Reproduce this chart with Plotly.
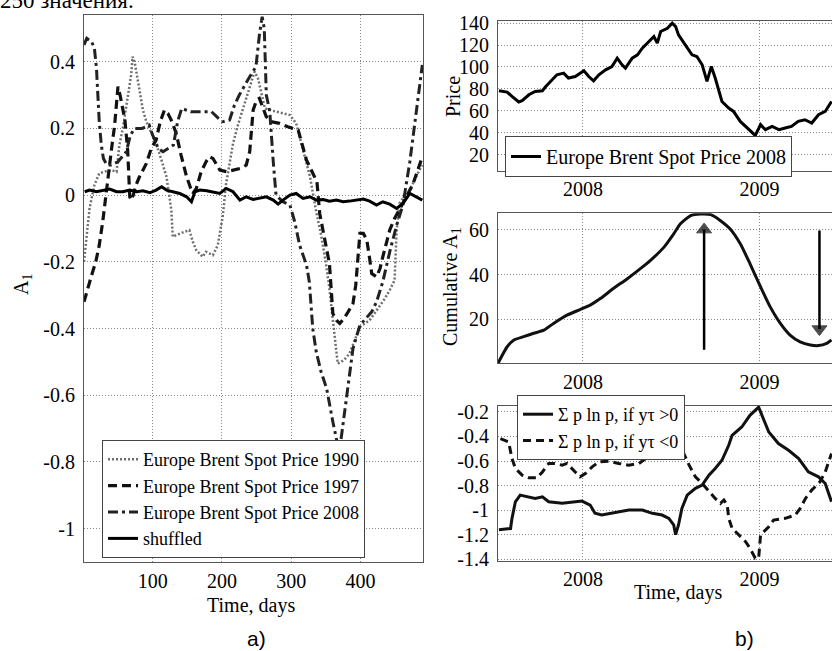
import plotly.graph_objects as go

# ---------------- Panel a) : A1 versus time ----------------
days_1990 = [1, 4, 9, 16, 23, 30, 40, 48, 52, 57, 62, 66, 69, 71, 74, 78, 82, 86, 91, 98, 105, 112, 120,
             127, 129, 134, 139, 146, 153, 158, 163, 172, 177, 187, 194, 201, 206, 211, 216, 223, 230, 240,
             247, 252, 258, 262, 269, 280, 290, 298, 307, 317, 327, 336, 343, 350, 355, 360, 364, 367, 372,
             378, 384, 392, 399, 406, 413, 420, 427, 435, 442, 449, 452, 456, 461, 466, 471, 475, 480, 485, 489]
a1_1990 = [-0.20, -0.14, -0.04, 0.03, 0.065, 0.07, 0.075, 0.07, 0.15, 0.20, 0.26, 0.32, 0.36, 0.415, 0.40,
           0.35, 0.30, 0.255, 0.22, 0.19, 0.155, 0.11, 0.055, -0.045, -0.125, -0.12, -0.115, -0.11, -0.105,
           -0.14, -0.165, -0.185, -0.17, -0.18, -0.15, -0.065, 0.035, 0.10, 0.155, 0.21, 0.255, 0.32, 0.37,
           0.35, 0.30, 0.26, 0.255, 0.25, 0.245, 0.24, 0.215, 0.135, 0.055, -0.05, -0.12, -0.205, -0.28,
           -0.375, -0.46, -0.505, -0.50, -0.49, -0.475, -0.43, -0.395, -0.385, -0.375, -0.355, -0.335, -0.31,
           -0.285, -0.255, -0.105, -0.025, -0.01, -0.005, 0.015, 0.035, 0.055, 0.075, 0.09]

days_1997 = [1, 6, 12, 18, 23, 28, 31, 35, 38, 42, 45, 48, 50, 53, 55, 60, 64, 67, 69, 72, 76, 81, 91, 98,
             105, 111, 117, 122, 128, 134, 141, 149, 155, 158, 163, 170, 177, 182, 187, 197, 207, 216, 226,
             235, 240, 245, 250, 254, 258, 264, 272, 283, 295, 303, 310, 316, 322, 330, 337, 341, 348, 355,
             360, 365, 370, 376, 382, 389, 393, 396, 399, 404, 409, 413, 416, 423, 428, 432, 437, 442, 449,
             456, 461, 466, 471, 475, 480, 485, 489]
a1_1997 = [-0.32, -0.28, -0.24, -0.20, -0.15, -0.08, -0.025, 0.04, 0.085, 0.16, 0.205, 0.28, 0.325, 0.30,
           0.275, 0.225, 0.135, -0.005, -0.015, 0.0, 0.03, 0.055, 0.095, 0.14, 0.165, 0.22, 0.255, 0.245,
           0.22, 0.185, 0.12, 0.055, 0.02, 0.005, 0.02, 0.07, 0.10, 0.115, 0.11, 0.075, 0.07, 0.075, 0.08,
           0.09, 0.13, 0.255, 0.285, 0.29, 0.27, 0.235, 0.22, 0.215, 0.205, 0.20, 0.195, 0.15, 0.105, 0.07,
           0.04, -0.055, -0.13, -0.205, -0.355, -0.375, -0.385, -0.37, -0.35, -0.325, -0.27, -0.205, -0.115,
           -0.115, -0.135, -0.19, -0.235, -0.245, -0.22, -0.185, -0.145, -0.105, -0.07, -0.045, -0.025,
           -0.005, 0.015, 0.03, 0.06, 0.09, 0.115]

days_2008 = [1, 5, 12, 16, 19, 21, 23, 26, 29, 34, 40, 50, 62, 68, 74, 85, 95, 100, 108, 115, 122, 130, 136,
             142, 155, 170, 185, 195, 201, 211, 218, 225, 233, 240, 249, 254, 258, 261, 264, 269, 274, 278,
             288, 298, 305, 312, 322, 326, 331, 336, 343, 351, 360, 366, 370, 374, 380, 389, 399, 408, 416,
             423, 432, 442, 452, 461, 466, 471, 476, 481, 485, 489]
a1_2008 = [0.45, 0.47, 0.46, 0.44, 0.38, 0.30, 0.22, 0.15, 0.11, 0.09, 0.09, 0.10, 0.13, 0.18, 0.20, 0.20,
           0.21, 0.18, 0.14, 0.13, 0.14, 0.15, 0.22, 0.26, 0.25, 0.25, 0.25, 0.23, 0.22, 0.225, 0.27, 0.30,
           0.33, 0.355, 0.385, 0.48, 0.535, 0.50, 0.30, 0.25, 0.10, 0.0, -0.02, -0.03, -0.08, -0.15, -0.21,
           -0.26, -0.40, -0.47, -0.53, -0.58, -0.68, -0.74, -0.76, -0.70, -0.60, -0.46, -0.39, -0.37, -0.35,
           -0.32, -0.26, -0.17, -0.09, -0.03, 0.03, 0.10, 0.18, 0.26, 0.32, 0.39]

days_shuffled = [2, 9, 19, 28, 38, 48, 57, 67, 77, 86, 96, 105, 113, 120, 129, 139, 149, 156, 161, 168, 178,
                 187, 197, 206, 216, 226, 235, 245, 254, 264, 274, 281, 288, 298, 307, 317, 327, 336, 346,
                 355, 365, 375, 384, 394, 404, 413, 423, 432, 442, 452, 461, 471, 481, 489]
a1_shuffled = [0.010, 0.015, 0.010, 0.013, 0.018, 0.010, 0.010, 0.015, 0.010, 0.013, 0.007, 0.015, 0.025,
               0.015, 0.010, 0.005, -0.005, -0.020, 0.010, 0.015, 0.013, 0.010, 0.005, 0.020, 0.010, -0.015,
               -0.005, -0.013, -0.010, -0.005, -0.015, -0.027, -0.015, 0.000, 0.005, -0.010, -0.005, -0.015,
               -0.013, -0.018, -0.015, -0.020, -0.018, -0.015, -0.012, -0.018, -0.030, -0.020, -0.027,
               -0.040, -0.025, 0.005, -0.005, -0.015]

left_xticks = [100, 200, 300, 400]
left_yticks = [0.4, 0.2, 0, -0.2, -0.4, -0.6, -0.8, -1]
left_yticktext = ["0.4", "0.2", "0", "-0.2", "-0.4", "-0.6", "-0.8", "-1"]

# ---------------- Panel b) : price ----------------
price_dates = ["2007-07-11", "2007-07-28", "2007-08-07", "2007-08-21", "2007-08-28", "2007-09-11",
               "2007-09-24", "2007-10-09", "2007-10-16", "2007-10-26", "2007-11-08", "2007-11-22",
               "2007-12-02", "2007-12-16", "2008-01-03", "2008-01-13", "2008-01-23", "2008-02-03",
               "2008-02-17", "2008-03-01", "2008-03-12", "2008-03-22", "2008-03-29", "2008-04-12",
               "2008-04-23", "2008-05-03", "2008-05-17", "2008-05-27", "2008-06-03", "2008-06-10",
               "2008-06-24", "2008-07-04", "2008-07-11", "2008-07-17", "2008-07-31", "2008-08-14",
               "2008-08-24", "2008-09-04", "2008-09-14", "2008-09-23", "2008-10-01", "2008-10-15",
               "2008-10-29", "2008-11-08", "2008-11-22", "2008-12-06", "2008-12-16", "2008-12-23",
               "2009-01-03", "2009-01-13", "2009-01-27", "2009-02-10", "2009-02-23", "2009-03-08",
               "2009-03-22", "2009-04-05", "2009-04-19", "2009-05-03", "2009-05-17", "2009-05-30"]
price_values = [78.3, 77.1, 73.1, 68.0, 69.2, 74.6, 77.7, 78.3, 82.2, 86.8, 92.9, 94.4, 89.9, 91.3, 96.5,
                91.3, 87.4, 92.9, 97.4, 100.4, 108.1, 102.0, 99.0, 108.1, 111.1, 117.2, 123.2, 127.8, 121.8,
                132.4, 135.4, 140.0, 136.9, 129.3, 120.2, 111.1, 109.6, 102.0, 86.8, 100.5, 89.9, 68.5, 62.5,
                59.4, 50.3, 44.3, 39.7, 37.5, 47.3, 42.7, 45.7, 42.7, 44.3, 45.7, 50.3, 51.8, 48.8, 56.4,
                59.4, 68.5]
price_yticks = [20, 40, 60, 80, 100, 120, 140]

# ---------------- Panel b) : cumulative A1 ----------------
cum_dates = ["2007-07-09", "2007-07-28", "2007-08-11", "2007-08-31", "2007-09-21", "2007-10-12",
             "2007-11-01", "2007-11-29", "2007-12-26", "2008-01-16", "2008-02-06", "2008-03-04",
             "2008-04-02", "2008-04-29", "2008-05-20", "2008-06-17", "2008-07-07", "2008-07-21",
             "2008-08-11", "2008-09-01", "2008-09-22", "2008-10-12", "2008-11-01", "2008-11-22",
             "2008-12-12", "2009-01-03", "2009-01-23", "2009-02-13", "2009-03-05", "2009-03-26",
             "2009-04-16", "2009-05-03", "2009-05-20", "2009-05-30"]
cum_values = [0.4, 7.8, 10.8, 12.3, 13.8, 15.2, 18.2, 21.9, 24.4, 26.4, 29.3, 33.8, 38.2, 42.7, 46.4,
              52.3, 58.2, 62.7, 66.4, 67.1, 66.8, 64.1, 60.4, 53.8, 44.9, 34.5, 25.6, 18.2, 13.0, 10.0,
              8.6, 8.3, 9.3, 10.8]
cum_yticks = [20, 40, 60]
arrow_up_dates = ["2008-09-08", "2008-09-08"]
arrow_up_values = [6.4, 62.8]        # tail, head
arrow_down_dates = ["2009-05-05", "2009-05-05"]
arrow_down_values = [59.7, 13.0]     # tail, head

# ---------------- Panel b) : entropy sums ----------------
pos_dates = ["2007-07-11", "2007-08-04", "2007-08-07", "2007-08-14", "2007-08-24", "2007-09-11",
             "2007-09-24", "2007-10-09", "2007-10-22", "2007-11-19", "2007-12-16", "2007-12-30",
             "2008-01-16", "2008-01-26", "2008-02-09", "2008-03-01", "2008-03-15", "2008-04-05",
             "2008-05-03", "2008-05-24", "2008-06-13", "2008-06-27", "2008-07-07", "2008-07-11",
             "2008-07-17", "2008-07-24", "2008-08-04", "2008-08-21", "2008-09-04", "2008-09-18",
             "2008-10-01", "2008-10-15", "2008-10-29", "2008-11-05", "2008-11-25", "2008-12-12",
             "2008-12-30", "2009-01-06", "2009-01-20", "2009-02-09", "2009-03-02", "2009-03-23",
             "2009-04-12", "2009-05-03", "2009-05-17", "2009-05-30"]
pos_values = [-1.16, -1.15, -1.067, -0.932, -0.878, -0.892, -0.905, -0.892, -0.932, -0.945, -0.932,
              -0.926, -0.959, -1.026, -1.04, -1.026, -1.013, -1.0, -1.0, -1.026, -1.04, -1.067, -1.121,
              -1.2, -1.121, -0.986, -0.878, -0.823, -0.797, -0.715, -0.661, -0.594, -0.472, -0.391,
              -0.323, -0.228, -0.161, -0.228, -0.364, -0.458, -0.513, -0.58, -0.689, -0.729, -0.783, -0.932]

neg_dates = ["2007-07-14", "2007-07-31", "2007-08-07", "2007-08-14", "2007-08-28", "2007-09-11",
             "2007-09-28", "2007-10-09", "2007-10-22", "2007-11-04", "2007-11-19", "2007-11-29",
             "2007-12-16", "2007-12-26", "2008-01-06", "2008-01-20", "2008-02-03", "2008-02-23",
             "2008-03-15", "2008-04-05", "2008-04-26", "2008-05-10", "2008-05-24", "2008-06-21",
             "2008-07-11", "2008-07-28", "2008-08-08", "2008-08-21", "2008-09-04", "2008-09-18",
             "2008-10-01", "2008-10-12", "2008-10-19", "2008-10-26", "2008-10-29", "2008-11-05",
             "2008-11-19", "2008-12-03", "2008-12-12", "2008-12-23", "2008-12-30", "2009-01-03",
             "2009-01-20", "2009-01-30", "2009-02-23", "2009-03-16", "2009-03-26", "2009-04-06",
             "2009-04-19", "2009-05-06", "2009-05-17", "2009-05-30"]
neg_values = [-0.418, -0.445, -0.58, -0.661, -0.715, -0.737, -0.737, -0.689, -0.62, -0.62, -0.634, -0.62,
              -0.689, -0.729, -0.702, -0.648, -0.607, -0.602, -0.62, -0.634, -0.62, -0.58, -0.499, -0.47,
              -0.49, -0.539, -0.634, -0.729, -0.783, -0.851, -0.905, -0.945, -0.918, -0.959, -1.067,
              -1.148, -1.202, -1.257, -1.31, -1.392, -1.392, -1.202, -1.135, -1.081, -1.067, -1.04, -0.986,
              -0.905, -0.837, -0.77, -0.689, -0.539]
ent_yticks = [-0.2, -0.4, -0.6, -0.8, -1, -1.2, -1.4]
ent_yticktext = ["-0.2", "-0.4", "-0.6", "-0.8", "-1", "-1.2", "-1.4"]

year_ticks = ["2008-01-01", "2009-01-01"]
year_text = ["2008", "2009"]
date_range = ["2007-07-09", "2009-05-31"]

# ---------------- Figure ----------------
W, H = 832, 651
SERIF = "Liberation Serif, Times New Roman, serif"


def fx(px):
    return px / W


def fy(py):
    return 1 - py / H


def tfont(size=20):
    return dict(family=SERIF, size=size, color="#000")


fig = go.Figure()

fig.add_trace(go.Scatter(x=days_1990, y=a1_1990, mode="lines", name="Europe Brent Spot Price 1990",
                         line=dict(color="#6e6e6e", width=2.5, dash="2px,2px"), xaxis="x", yaxis="y",
                         legend="legend"))
fig.add_trace(go.Scatter(x=days_1997, y=a1_1997, mode="lines", name="Europe Brent Spot Price 1997",
                         line=dict(color="#111", width=3.2, dash="9px,5px"), xaxis="x", yaxis="y",
                         legend="legend"))
fig.add_trace(go.Scatter(x=days_2008, y=a1_2008, mode="lines", name="Europe Brent Spot Price 2008",
                         line=dict(color="#222", width=3, dash="10px,4px,3px,4px"), xaxis="x", yaxis="y",
                         legend="legend"))
fig.add_trace(go.Scatter(x=days_shuffled, y=a1_shuffled, mode="lines", name="shuffled",
                         line=dict(color="#000", width=3), xaxis="x", yaxis="y", legend="legend"))

fig.add_trace(go.Scatter(x=price_dates, y=price_values, mode="lines", name="Europe Brent Spot Price 2008",
                         line=dict(color="#000", width=3), xaxis="x2", yaxis="y2", legend="legend2"))

fig.add_trace(go.Scatter(x=cum_dates, y=cum_values, mode="lines", name="Cumulative A1", showlegend=False,
                         line=dict(color="#111", width=3, shape="spline", smoothing=0.6),
                         xaxis="x3", yaxis="y3"))
for adates, avals in ((arrow_up_dates, arrow_up_values), (arrow_down_dates, arrow_down_values)):
    fig.add_trace(go.Scatter(x=adates, y=avals, mode="lines+markers", showlegend=False, hoverinfo="skip",
                             line=dict(color="#000", width=2.5),
                             marker=dict(symbol=["circle", "triangle-up"], size=[0, 13], color="#000",
                                         angleref="previous", standoff=6,
                                         line=dict(color="#000", width=1)),
                             xaxis="x3", yaxis="y3"))

fig.add_trace(go.Scatter(x=pos_dates, y=pos_values, mode="lines", name="Σ p ln p, if yτ >0",
                         line=dict(color="#111", width=3), xaxis="x4", yaxis="y4", legend="legend3"))
fig.add_trace(go.Scatter(x=neg_dates, y=neg_values, mode="lines", name="Σ p ln p, if yτ <0",
                         line=dict(color="#111", width=3, dash="8px,5px"), xaxis="x4", yaxis="y4",
                         legend="legend3"))


def axis(**kw):
    base = dict(showline=True, linecolor="#555", linewidth=1, mirror=True, showgrid=True,
                gridcolor="#8a8a8a", griddash="1px,2px", gridwidth=1, zeroline=False, ticks="",
                tickfont=tfont(20), automargin=False)
    base.update(kw)
    return base


right_dom = [fx(498), 1.0]

fig.update_layout(
    width=W, height=H, autosize=False,
    margin=dict(l=0, r=0, t=0, b=0, pad=0),
    paper_bgcolor="white", plot_bgcolor="white",
    font=tfont(20),
    title=dict(text="250 значения.", x=0, xanchor="left", xref="container", yref="container",
               y=fy(8), yanchor="bottom", font=tfont(23), automargin=False),
    xaxis=axis(domain=[fx(84), fx(423)], range=[1, 490], tickvals=left_xticks, anchor="y",
               ticklabelstandoff=1),
    yaxis=axis(domain=[fy(562), fy(15)], range=[-1.1, 0.54], tickvals=left_yticks,
               ticktext=left_yticktext, anchor="x", ticklabelstandoff=4),
    xaxis2=axis(domain=right_dom, type="date", range=date_range, tickvals=year_ticks,
                ticktext=year_text, anchor="y2", ticklabelstandoff=0),
    yaxis2=axis(domain=[fy(171), fy(21)], range=[5, 142], tickvals=price_yticks, anchor="x2",
                ticklabelstandoff=4),
    xaxis3=axis(domain=right_dom, type="date", range=date_range, tickvals=year_ticks,
                ticktext=year_text, anchor="y3", ticklabelstandoff=1),
    yaxis3=axis(domain=[fy(363.3), fy(213.3)], range=[0.4, 67.4], tickvals=cum_yticks, anchor="x3",
                ticklabelstandoff=4),
    xaxis4=axis(domain=right_dom, type="date", range=date_range, tickvals=year_ticks,
                ticktext=year_text, anchor="y4", ticklabelstandoff=0),
    yaxis4=axis(domain=[fy(560.7), fy(406)], range=[-1.412, -0.152], tickvals=ent_yticks,
                ticktext=ent_yticktext, anchor="x4", ticklabelstandoff=4),
    legend=dict(x=fx(102), y=fy(558), xanchor="left", yanchor="bottom", bgcolor="white",
                bordercolor="#444", borderwidth=1, font=tfont(18), tracegroupgap=0),
    legend2=dict(x=fx(505), y=fy(136), xanchor="left", yanchor="top", bgcolor="white",
                 bordercolor="#444", borderwidth=1, font=tfont(20)),
    legend3=dict(x=fx(517), y=fy(395), xanchor="left", yanchor="top", bgcolor="white",
                 bordercolor="#444", borderwidth=1, font=tfont(18)),
)

annotations = [
    dict(text="A<sub>1</sub>", x=fx(22), y=fy(285), textangle=-90),
    dict(text="Time, days", x=fx(251), y=fy(605)),
    dict(text="Price", x=fx(453), y=fy(97), textangle=-90),
    dict(text="Cumulative A<sub>1</sub>", x=fx(451), y=fy(287), textangle=-90),
    dict(text="Time, days", x=fx(678), y=fy(592)),
    dict(text="a)", x=fx(256), y=fy(638), font=dict(family="Liberation Sans", size=21, color="#000")),
    dict(text="b)", x=fx(744), y=fy(638), font=dict(family="Liberation Sans", size=21, color="#000")),
]
for a in annotations:
    a.setdefault("xref", "paper")
    a.setdefault("yref", "paper")
    a.setdefault("showarrow", False)
    a.setdefault("xanchor", "center")
    a.setdefault("yanchor", "middle")
    a.setdefault("font", tfont(20))

fig.update_layout(annotations=annotations)

# the page body gets no default margin, so the 832x651 figure fills the window exactly
fig.write_html("out.html", config={"displayModeBar": False, "staticPlot": True},
               post_script="document.body.style.margin='0';document.body.style.overflow='hidden';")
